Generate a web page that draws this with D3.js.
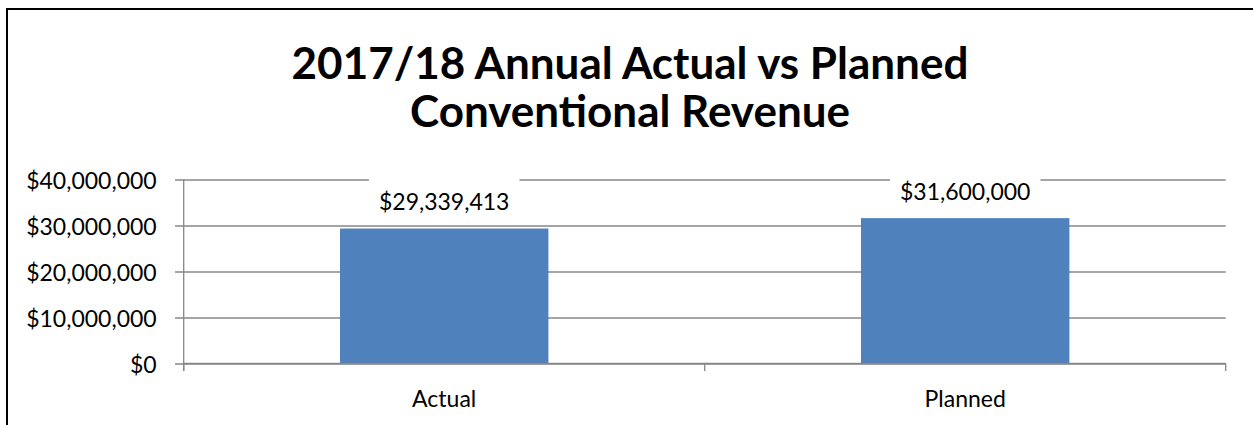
<!DOCTYPE html>
<html>
<head>
<meta charset="utf-8">
<script src="https://cdn.jsdelivr.net/npm/d3@7"></script>
<style>
  html, body { margin: 0; padding: 0; background: #fff; }
  svg { display: block; }
  text { font-family: Lato, "Open Sans", sans-serif; }
</style>
</head>
<body>
<svg id="chart" width="1253" height="425"></svg>
<script>
// Chart data
const categories = ["Actual", "Planned"];
const revenue = [29339413, 31600000];
const yTicks = [0, 10000000, 20000000, 30000000, 40000000];
const titleLines = ["2017/18 Annual Actual vs Planned", "Conventional Revenue"];

const W = 1253, H = 425;
const svg = d3.select("#chart");
const labelSize = 23;

// Outer chart frame
svg.append("rect")
  .attr("x", 7).attr("y", 9)
  .attr("width", W + 20).attr("height", H + 20)
  .attr("fill", "#fff")
  .attr("stroke", "#000")
  .attr("stroke-width", 2);

// Plot area geometry
const plotLeft = 183.7, plotRight = 1225.7, plotTop = 179.5, plotBottom = 363.5;

const x = d3.scaleBand()
  .domain(categories)
  .range([plotLeft, plotRight])
  .paddingInner(0.6)
  .paddingOuter(0.3);

const y = d3.scaleLinear()
  .domain([0, 40000000])
  .range([plotBottom, plotTop]);

const fmt = v => "$" + d3.format(",")(v);
const gridColor = "#878787";

// Title
const title = svg.append("g").attr("class", "title");
title.selectAll("text")
  .data(titleLines)
  .join("text")
  .attr("x", 630)
  .attr("y", (d, i) => 79.3 + i * 47.4)
  .attr("text-anchor", "middle")
  .attr("font-weight", "bold")
  .attr("font-size", 44)
  .attr("fill", "#000")
  .text(d => d);

// Horizontal gridlines + y axis
const yAxis = d3.axisLeft(y)
  .tickValues(yTicks)
  .tickFormat(fmt)
  .tickSize(-(plotRight - plotLeft))
  .tickPadding(0);

const gy = svg.append("g")
  .attr("transform", `translate(${plotLeft},0)`)
  .call(yAxis);
gy.select(".domain").remove();
gy.selectAll(".tick line")
  .attr("x1", -8.7)
  .attr("stroke", gridColor)
  .attr("stroke-width", 1.3);
gy.selectAll(".tick text")
  .attr("x", -27)
  .attr("dy", null)
  .attr("y", 8.5)
  .attr("font-size", labelSize)
  .attr("fill", "#000")
  .attr("font-family", "Lato, 'Open Sans', sans-serif");

// Vertical axis line
svg.append("line")
  .attr("x1", plotLeft).attr("x2", plotLeft)
  .attr("y1", plotTop).attr("y2", plotBottom + 7.5)
  .attr("stroke", gridColor)
  .attr("stroke-width", 1.3);

// Bars
svg.append("g").selectAll("rect")
  .data(categories)
  .join("rect")
  .attr("x", d => x(d))
  .attr("width", x.bandwidth())
  .attr("y", (d, i) => y(revenue[i]))
  .attr("height", (d, i) => y(0) - y(revenue[i]))
  .attr("fill", "#4F81BD");

// X axis with category boundary ticks
const gx = svg.append("g").attr("transform", `translate(0,${plotBottom})`);
gx.append("line")
  .attr("x1", plotLeft).attr("x2", plotRight)
  .attr("stroke", gridColor)
  .attr("stroke-width", 1.3);
const boundaries = [plotLeft].concat(categories.map(c => x(c) + x.bandwidth() / 2 + x.step() / 2));
gx.selectAll("line.bt")
  .data(boundaries)
  .join("line")
  .attr("class", "bt")
  .attr("x1", d => d).attr("x2", d => d)
  .attr("y1", 0).attr("y2", 7.5)
  .attr("stroke", gridColor)
  .attr("stroke-width", 1.3);
gx.selectAll("text")
  .data(categories)
  .join("text")
  .attr("x", d => x(d) + x.bandwidth() / 2)
  .attr("y", 43.2)
  .attr("text-anchor", "middle")
  .attr("font-size", labelSize)
  .attr("fill", "#000")
  .text(d => d);

// Value labels with white backing boxes
const labels = svg.append("g").selectAll("g")
  .data(categories)
  .join("g")
  .attr("transform", (d, i) => `translate(${x(d) + x.bandwidth() / 2},${y(revenue[i]) - 18.5})`);
labels.append("rect").attr("fill", "#fff");
labels.append("text")
  .attr("text-anchor", "middle")
  .attr("font-size", labelSize)
  .attr("fill", "#000")
  .text((d, i) => fmt(revenue[i]))
  .each(function () {
    const w = this.getComputedTextLength();
    d3.select(this.parentNode).select("rect")
      .attr("x", -w / 2 - 10).attr("width", w + 20)
      .attr("y", -32).attr("height", 40);
  });
</script>
</body>
</html>
